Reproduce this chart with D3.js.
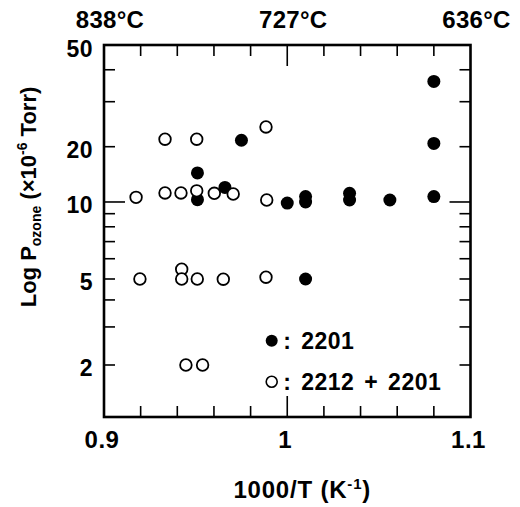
<!DOCTYPE html>
<html><head><meta charset="utf-8">
<script src="https://cdn.jsdelivr.net/npm/d3@7"></script>
<style>
body{margin:0;background:#fff}
text{font-family:"Liberation Sans",Arial,Helvetica,sans-serif;font-weight:bold;fill:#000}
</style>
</head><body>
<svg id="c" width="520" height="507"></svg>
<script>
// ---- data ----
const filled2201X = [0.951, 0.951, 0.966, 0.975, 1.000, 1.010, 1.010, 1.010, 1.034, 1.034, 1.056, 1.080, 1.080, 1.080];
const filled2201Y = [14.4, 10.3, 12.0, 21.2, 9.9, 10.7, 10.0, 5.0, 11.15, 10.25, 10.25, 10.7, 20.6, 36.0];
const openMixX = [0.9175, 0.9333, 0.942, 0.9506, 0.9602, 0.9705, 0.9888, 0.9333, 0.9506, 0.9884,
                  0.9196, 0.9424, 0.9424, 0.9509, 0.9651, 0.9884, 0.9447, 0.9538];
const openMixY = [10.6, 11.2, 11.2, 11.5, 11.15, 11.05, 10.25, 21.4, 21.4, 23.9,
                  5.0, 5.46, 5.0, 5.0, 4.99, 5.08, 2.0, 2.0];
const xTickLabels = [0.9, 1, 1.1];
const xMinorTicks = [0.92, 0.94, 0.96, 0.98, 1.02, 1.04, 1.06, 1.08];
const xMajorTicks = [1.0];
const yTickLabels = [2, 5, 10, 20, 50];
const yMinorTicks = [2, 3, 4, 5, 6, 7, 8, 9, 20, 30, 40];
const yMajorTicks = [10];
const topTempLabels = ["838°C", "727°C", "636°C"];
const topTempValues = [0.9, 1.0, 1.1];
const legendLabels = [": 2201", ": 2212 + 2201"];

// ---- layout ----
const L = 104, R = 470.5, T = 45, B = 417;
const svg = d3.select("#c");

const x = d3.scaleLinear().domain([0.9, 1.1]).range([L, R]);
// scanned log axis is slightly uneven: piecewise log scale through the labelled decades
const yDomain = [1.149, 2, 5, 10, 20, 50];
const yFrac = [1, 0.8602, 0.629, 0.422, 0.2734, 0];
const y = d3.scaleLog().domain(yDomain).range(yFrac.map(f => T + f * (B - T)));

const g = svg.append("g");

// ticks (inward)
const minorLen = 11, majorLen = 21;
function xTicks(vals, len) {
  vals.forEach(v => {
    g.append("line").attr("x1", x(v)).attr("x2", x(v)).attr("y1", B).attr("y2", B - len)
      .attr("stroke", "#000").attr("stroke-width", 1.6);
    g.append("line").attr("x1", x(v)).attr("x2", x(v)).attr("y1", T).attr("y2", T + len)
      .attr("stroke", "#000").attr("stroke-width", 1.6);
  });
}
xTicks(xMinorTicks, minorLen);
xTicks(xMajorTicks, majorLen);
function yTicks(vals, len) {
  vals.forEach(v => {
    g.append("line").attr("x1", L).attr("x2", L + len).attr("y1", y(v)).attr("y2", y(v))
      .attr("stroke", "#000").attr("stroke-width", 1.6);
    g.append("line").attr("x1", R).attr("x2", R - len).attr("y1", y(v)).attr("y2", y(v))
      .attr("stroke", "#000").attr("stroke-width", 1.6);
  });
}
yTicks(yMinorTicks, minorLen);
yTicks(yMajorTicks, majorLen);

// frame
g.append("rect").attr("x", L).attr("y", T).attr("width", R - L).attr("height", B - T)
  .attr("fill", "none").attr("stroke", "#000").attr("stroke-width", 2.6);

// tick labels
g.selectAll(".xl").data(xTickLabels).enter().append("text")
  .attr("x", d => x(d) - 2).attr("y", 448).attr("text-anchor", "middle")
  .attr("font-size", 24).attr("letter-spacing", 0.5).text(d => d);
g.selectAll(".yl").data(yTickLabels).enter().append("text")
  .attr("x", 93).attr("y", d => y(d) + 11.5).attr("text-anchor", "end")
  .attr("font-size", 23).attr("letter-spacing", 0.5).text(d => d);
g.selectAll(".tl").data(topTempLabels).enter().append("text")
  .attr("x", (d, i) => x(topTempValues[i]) + 6).attr("y", 28).attr("text-anchor", "middle")
  .attr("font-size", 24).attr("letter-spacing", 0.3).text(d => d);

// axis titles
const xt = g.append("text").attr("x", (L + R) / 2 + 15).attr("y", 498)
  .attr("text-anchor", "middle").attr("font-size", 24).attr("letter-spacing", 0.8);
xt.append("tspan").text("1000/T (K");
xt.append("tspan").attr("font-size", 15).attr("dy", -9).text("-1");
xt.append("tspan").attr("dy", 9).text(")");

const yt = g.append("text").attr("transform", "translate(36,197) rotate(-90)")
  .attr("text-anchor", "middle").attr("font-size", 22);
yt.append("tspan").text("Log P");
yt.append("tspan").attr("font-size", 14).attr("dy", 5).text("ozone");
yt.append("tspan").attr("dy", -5).text(" (×10");
yt.append("tspan").attr("font-size", 14).attr("dy", -9).text("-6");
yt.append("tspan").attr("dy", 9).text(" Torr)");

// points
const rFill = 6.5, rOpen = 5.8;
g.selectAll(".f").data(filled2201X).enter().append("circle")
  .attr("cx", d => x(d)).attr("cy", (d, i) => y(filled2201Y[i])).attr("r", rFill).attr("fill", "#000");
g.selectAll(".o").data(openMixX).enter().append("circle")
  .attr("cx", d => x(d)).attr("cy", (d, i) => y(openMixY[i])).attr("r", rOpen)
  .attr("fill", "#fff").attr("stroke", "#000").attr("stroke-width", 1.8);

// legend
const lx = 271.7, ly = [340.7, 381.7];
g.append("circle").attr("cx", lx).attr("cy", ly[0]).attr("r", 6).attr("fill", "#000");
g.append("circle").attr("cx", lx).attr("cy", ly[1]).attr("r", 5.5)
  .attr("fill", "#fff").attr("stroke", "#000").attr("stroke-width", 1.6);
legendLabels.forEach((t, i) => {
  g.append("text").attr("x", lx + 11.5).attr("y", ly[i] + 8).attr("font-size", 23)
    .attr("letter-spacing", 0.5).attr("word-spacing", 3)
    .attr("xml:space", "preserve").text(t);
});
</script>
</body></html>
